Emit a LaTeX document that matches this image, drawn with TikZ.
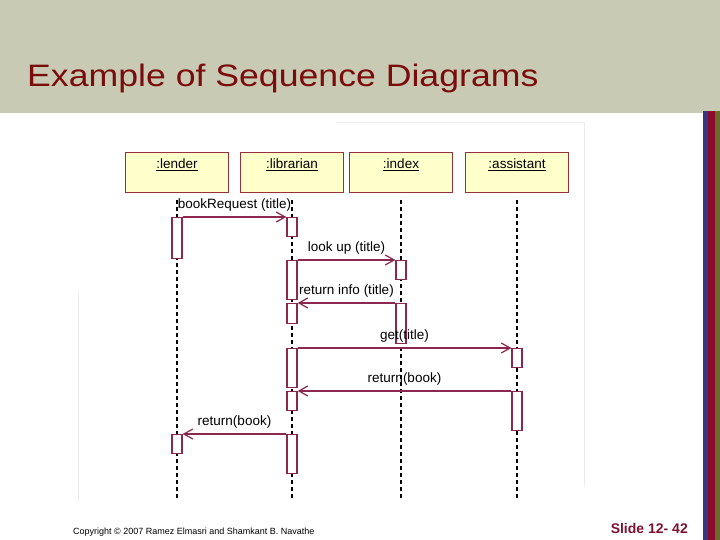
\documentclass[tikz,border=0pt]{standalone}
\usepackage{fontspec}
\setmainfont{Liberation Sans}
\newfontfamily\titlefont[FakeStretch=1.15]{Liberation Sans}
\usetikzlibrary{positioning, arrows.meta}
\definecolor{headbg}{RGB}{200,202,179}
\definecolor{titlered}{RGB}{122,12,12}
\definecolor{msgcol}{RGB}{140,40,80}
\definecolor{boxline}{RGB}{150,50,60}
\definecolor{boxfill}{RGB}{255,255,204}
\definecolor{stripeblue}{RGB}{51,56,128}
\definecolor{stripered}{RGB}{140,10,42}
\definecolor{stripeolive}{RGB}{107,107,42}
\definecolor{slidecol}{RGB}{128,16,48}
\tikzset{
obj/.style={
  draw=boxline, 
  fill=boxfill, 
  line width=1.5pt, 
  rectangle, 
  minimum width=103pt, 
  minimum height=40pt, inner sep=0pt
  }, 
objname/.style={font=\fontsize{13.5}{16}\selectfont, inner sep=0pt},
act/.style={draw=msgcol, fill=white, line width=1.2pt, rectangle, minimum width=10pt, inner sep=0pt, anchor=north},
life/.style={dash pattern=on 4pt off 3pt, line width=1.4pt},
msg/.style={-{Straight Barb[length=9pt,width=10pt]}, draw=msgcol, line width=1.2pt},
lbl/.style={font=\fontsize{13.5}{16}\selectfont, above=5pt, inner sep=0pt}
}
\begin{document}
\begin{tikzpicture}[x=1pt, y=-1pt]
\useasboundingbox (0,0) rectangle (720,540);
% slide frame
\fill[headbg] (0,0) rectangle (720,113);
\fill[stripeblue] (703,111) rectangle (708,540);
\fill[stripered] (708,111) rectangle (715,540);
\fill[stripeolive] (715,111) rectangle (720,540);
\draw[gray!15] (336,122) -- (584,122) -- (584,487);
\draw[gray!15] (78,293) -- (78,500);
\node[anchor=base west, inner sep=0pt, text=titlered, font=\titlefont\fontsize{31}{36}\selectfont] (title) at (27,87) {Example of Sequence Diagrams};
\node[anchor=base west, inner sep=0pt, font=\fontsize{9}{10}\selectfont] (copyright) at (73,534) {Copyright © 2007 Ramez Elmasri and Shamkant B. Navathe};
\node[anchor=base east, inner sep=0pt, text=slidecol, font=\bfseries\fontsize{14}{16}\selectfont] (slideno) at (688,533) {Slide 12- 42};
% objects
\node[obj] (lender) at (177,172.5) {};
\node[obj] (librarian) at (292,172.5) {};
\node[obj] (index) at (401,172.5) {};
\node[obj] (assistant) at (517,172.5) {};
\node[objname, below=7pt of lender.north] (lender-name) {\underline{:lender}};
\node[objname, below=7pt of librarian.north] (librarian-name) {\underline{:librarian}};
\node[objname, below=7pt of index.north] (index-name) {\underline{:index}};
\node[objname, below=7pt of assistant.north] (assistant-name) {\underline{:assistant}};
% lifelines
\foreach \o/\x in {lender/177, librarian/292, index/401, assistant/517} {
  \coordinate (\o-top) at (\x,200);
  \coordinate (\o-end) at (\x,500);
  \draw[life] (\o-top) -- (\o-end);
}
% activations
\foreach \n/\x/\t/\h in {lenderA/177/217/41, lenderB/177/434/19,
    librA/292/217/19, librB/292/260/39, librC/292/303/20, librD/292/348/39, librE/292/391/19, librF/292/434/39,
    indexA/401/260/19, indexB/401/303/40,
    assistA/517/348/19, assistB/517/391/39}
  \node[act, minimum height=\h pt] (\n) at (\x,\t) {};
% messages
\draw[msg] (lenderA.north east) -- node[lbl] {bookRequest (title)} (librA.north west);
\draw[msg] (librB.north east) -- node[lbl] {look up (title)} (indexA.north west);
\draw[msg] (indexB.north west) -- node[lbl] {return info (title)} (librC.north east);
\draw[msg] (librD.north east) -- node[lbl] {get(title)} (assistA.north west);
\draw[msg] (assistB.north west) -- node[lbl] {return(book)} (librE.north east);
\draw[msg] (librF.north west) -- node[lbl] {return(book)} (lenderB.north east);
\end{tikzpicture}
\end{document}
